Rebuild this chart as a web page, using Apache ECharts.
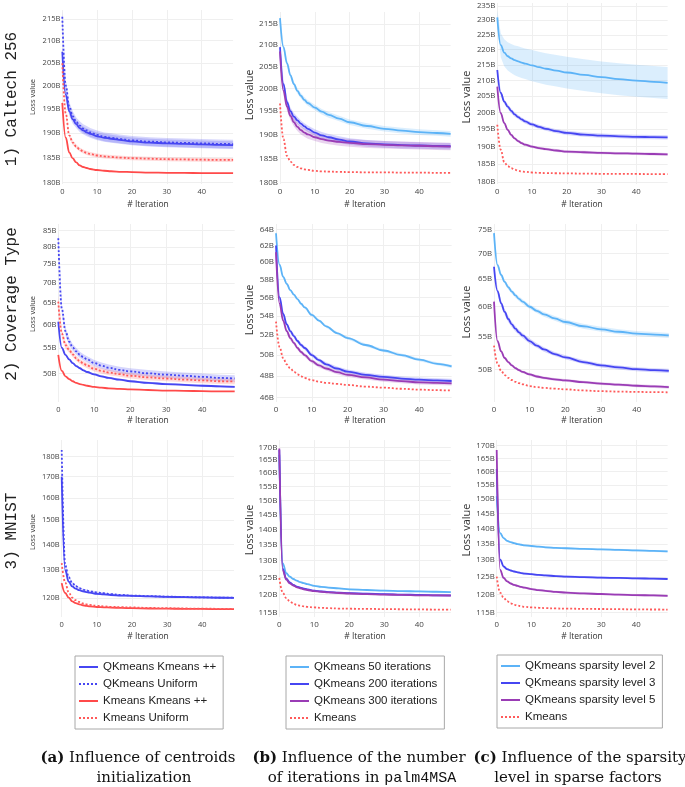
<!DOCTYPE html>
<html><head><meta charset="utf-8">
<script src="https://cdn.jsdelivr.net/npm/echarts@6/dist/echarts.min.js"></script>
<style>html,body{margin:0;padding:0;background:#fff}#c{width:685px;height:787px}</style>
</head><body><div id="c"></div>
<script>
// ---------- DATA ----------
const iterations = [0,1,2,3,4,5,6,7,8,10,12,14,17,20,25,30,35,40,45,49];

// Row 1: Caltech 256
const cal_a_qkKpp = [207.5,198.0,194.5,192.8,191.8,191.0,190.5,190.1,189.8,189.3,189.0,188.8,188.5,188.25,188.0,187.85,187.75,187.65,187.55,187.5];
const cal_a_qkUni = [215.5,200.0,195.5,193.5,192.3,191.5,190.9,190.5,190.1,189.6,189.2,189.0,188.7,188.45,188.2,188.05,187.95,187.85,187.75,187.7];
const cal_a_kmKpp = [196.3,189.0,186.0,184.8,184.0,183.4,183.1,182.9,182.7,182.5,182.35,182.25,182.15,182.1,182.0,181.95,181.92,181.9,181.88,181.87];
const cal_a_kmUni = [204.9,194.0,189.5,188.0,187.2,186.6,186.2,185.9,185.7,185.4,185.2,185.1,184.95,184.85,184.75,184.65,184.6,184.55,184.5,184.5];
const cal_a_qkKpp_sd = [1.2,1.0,0.9,0.9,0.8,0.8,0.8,0.8,0.8,0.8,0.8,0.8,0.8,0.8,0.8,0.8,0.8,0.8,0.8,0.8];
const cal_a_qkUni_sd = [1.5,1.2,1.0,1.0,0.9,0.9,0.9,0.9,0.9,0.9,0.9,0.9,0.9,0.9,0.9,0.9,0.9,0.9,0.9,0.9];
const cal_a_kmUni_sd = [0.8,0.6,0.5,0.5,0.4,0.4,0.4,0.4,0.4,0.4,0.4,0.4,0.4,0.4,0.4,0.4,0.4,0.4,0.4,0.4];

const cal_b_qk50  = [216.4,209.5,205.8,203.0,201.0,199.5,198.4,197.5,196.8,195.8,194.9,194.2,193.4,192.6,191.8,191.2,190.8,190.5,190.3,190.1];
const cal_b_qk200 = [209.5,201.0,197.0,195.0,193.8,193.0,192.3,191.7,191.2,190.4,189.8,189.4,188.9,188.5,188.1,187.9,187.75,187.65,187.55,187.5];
const cal_b_qk300 = [208.5,199.5,196.0,194.0,192.6,191.6,190.9,190.4,190.0,189.4,189.0,188.7,188.4,188.2,187.95,187.8,187.7,187.6,187.5,187.45];
const cal_b_km    = [196.7,189.0,185.5,184.3,183.6,183.2,182.9,182.7,182.6,182.4,182.3,182.25,182.2,182.15,182.1,182.1,182.05,182.05,182.0,182.0];
const cal_b_qk50_sd  = [1.0,0.8,0.7,0.6,0.6,0.6,0.6,0.6,0.6,0.6,0.6,0.6,0.6,0.6,0.6,0.6,0.6,0.6,0.6,0.6];
const cal_b_qk200_sd = [1.2,1.0,0.9,0.8,0.8,0.8,0.7,0.7,0.7,0.7,0.7,0.7,0.7,0.7,0.7,0.7,0.7,0.7,0.7,0.7];
const cal_b_qk300_sd = [1.2,1.0,0.9,0.9,0.9,0.9,0.9,0.9,0.9,0.8,0.8,0.8,0.8,0.8,0.8,0.8,0.8,0.8,0.8,0.8];

const cal_c_sp2 = [231.0,221.5,219.0,217.8,217.1,216.5,216.1,215.7,215.4,214.8,214.2,213.7,213.1,212.5,211.7,211.0,210.4,209.9,209.5,209.2];
const cal_c_sp3 = [213.3,206.0,203.3,201.8,200.5,199.4,198.6,197.9,197.3,196.4,195.7,195.1,194.4,193.9,193.4,193.1,192.9,192.75,192.65,192.6];
const cal_c_sp5 = [208.0,199.8,196.8,194.8,193.3,192.3,191.5,190.9,190.5,189.9,189.5,189.2,188.8,188.5,188.3,188.1,188.0,187.9,187.8,187.7];
const cal_c_km  = [196.3,189.0,185.5,184.4,183.8,183.4,183.1,182.9,182.8,182.6,182.5,182.45,182.4,182.35,182.3,182.25,182.2,182.2,182.15,182.15];
const cal_c_sp2_sd = [2.5,4.0,4.5,4.7,4.8,4.9,5.0,5.0,5.0,5.1,5.1,5.1,5.1,5.1,5.1,5.1,5.1,5.1,5.1,5.1];
const cal_c_sp3_sd = [1.0,0.8,0.7,0.7,0.7,0.7,0.6,0.6,0.6,0.6,0.6,0.6,0.6,0.6,0.6,0.6,0.6,0.6,0.6,0.6];
const cal_c_sp5_sd = [0.8,0.6,0.5,0.5,0.5,0.4,0.4,0.4,0.4,0.4,0.4,0.4,0.4,0.4,0.4,0.4,0.4,0.4,0.4,0.4];

// Row 2: Coverage Type
const cov_a_qkKpp = [60.6,55.0,53.6,52.7,52.0,51.4,51.0,50.6,50.3,49.85,49.5,49.2,48.9,48.6,48.3,48.1,47.95,47.8,47.7,47.6];
const cov_a_qkUni = [82.6,63.5,58.5,56.3,55.1,54.3,53.6,53.1,52.7,52.0,51.5,51.1,50.7,50.4,50.05,49.8,49.6,49.4,49.2,49.1];
const cov_a_kmKpp = [53.6,50.5,49.5,49.0,48.6,48.3,48.1,47.95,47.8,47.6,47.45,47.35,47.25,47.15,47.05,46.95,46.9,46.85,46.8,46.8];
const cov_a_kmUni = [65.3,58.0,55.6,54.6,53.7,52.9,52.3,51.9,51.5,50.9,50.5,50.2,49.9,49.6,49.3,49.1,48.9,48.75,48.6,48.55];
const cov_a_qkKpp_sd = [0.4,0.3,0.25,0.2,0.2,0.2,0.2,0.2,0.2,0.2,0.2,0.2,0.2,0.2,0.2,0.2,0.2,0.2,0.2,0.2];
const cov_a_qkUni_sd = [2.0,1.2,0.9,0.8,0.7,0.7,0.6,0.6,0.6,0.6,0.6,0.6,0.6,0.6,0.6,0.6,0.6,0.6,0.6,0.6];
const cov_a_kmUni_sd = [1.5,0.9,0.7,0.6,0.5,0.5,0.5,0.5,0.5,0.5,0.5,0.5,0.5,0.5,0.5,0.5,0.5,0.5,0.5,0.5];

const cov_b_qk50  = [63.5,59.7,58.3,57.5,56.8,56.3,55.8,55.3,54.9,54.1,53.5,52.9,52.2,51.7,51.0,50.45,50.0,49.55,49.15,48.9];
const cov_b_qk200 = [62.0,56.0,54.2,53.1,52.4,51.9,51.4,51.0,50.7,50.0,49.5,49.1,48.7,48.4,48.1,47.9,47.75,47.65,47.57,47.52];
const cov_b_qk300 = [61.2,55.3,53.5,52.4,51.7,51.2,50.7,50.3,50.0,49.4,49.0,48.7,48.35,48.1,47.85,47.65,47.5,47.4,47.35,47.3];
const cov_b_km    = [53.4,50.8,49.7,49.1,48.7,48.4,48.15,47.95,47.8,47.6,47.45,47.35,47.25,47.15,47.0,46.9,46.8,46.72,46.67,46.64];
const cov_b_qk50_sd  = [0.3,0.2,0.2,0.2,0.15,0.15,0.15,0.15,0.15,0.15,0.15,0.15,0.15,0.15,0.15,0.15,0.15,0.15,0.15,0.15];
const cov_b_qk200_sd = [0.4,0.3,0.3,0.25,0.25,0.2,0.2,0.2,0.2,0.2,0.2,0.2,0.2,0.2,0.2,0.2,0.2,0.2,0.2,0.2];
const cov_b_qk300_sd = [0.4,0.3,0.3,0.25,0.25,0.2,0.2,0.2,0.2,0.2,0.2,0.2,0.2,0.2,0.2,0.2,0.2,0.2,0.2,0.2];

const cov_c_sp2 = [74.3,67.7,65.8,64.5,63.5,62.7,62.0,61.4,60.9,60.0,59.3,58.7,58.0,57.4,56.7,56.2,55.8,55.5,55.35,55.2];
const cov_c_sp3 = [67.4,62.8,60.6,59.1,57.9,57.0,56.3,55.7,55.2,54.3,53.6,53.0,52.3,51.8,51.1,50.6,50.3,50.05,49.9,49.8];
const cov_c_sp5 = [60.9,54.3,52.7,51.7,51.1,50.6,50.2,49.9,49.65,49.3,49.0,48.8,48.6,48.45,48.2,48.0,47.85,47.7,47.6,47.5];
const cov_c_km  = [53.6,50.9,49.8,49.2,48.8,48.5,48.25,48.05,47.9,47.65,47.5,47.4,47.3,47.2,47.05,46.95,46.9,46.85,46.82,46.8];
const cov_c_sp2_sd = [0.6,0.5,0.45,0.4,0.4,0.4,0.4,0.4,0.4,0.4,0.4,0.4,0.4,0.4,0.4,0.4,0.4,0.4,0.4,0.4];
const cov_c_sp3_sd = [0.6,0.6,0.5,0.5,0.5,0.45,0.45,0.4,0.4,0.4,0.35,0.35,0.3,0.3,0.3,0.3,0.3,0.3,0.3,0.3];
const cov_c_sp5_sd = [0.4,0.3,0.25,0.2,0.2,0.2,0.2,0.2,0.2,0.2,0.2,0.2,0.2,0.2,0.2,0.2,0.2,0.2,0.2,0.2];

// Row 3: MNIST
const mni_a_qkKpp = [170.0,130.0,125.8,124.1,123.3,122.8,122.4,122.1,121.9,121.5,121.3,121.1,120.9,120.8,120.6,120.45,120.35,120.25,120.15,120.1];
const mni_a_qkUni = [183.5,131.8,127.5,125.3,124.2,123.5,123.0,122.7,122.4,122.0,121.7,121.4,121.1,120.9,120.7,120.55,120.4,120.3,120.2,120.15];
const mni_a_kmKpp = [125.3,121.8,120.2,118.9,118.3,117.9,117.6,117.4,117.2,117.0,116.9,116.8,116.7,116.6,116.5,116.45,116.4,116.35,116.3,116.3];
const mni_a_kmUni = [132.7,125.5,122.0,120.2,119.3,118.7,118.2,117.9,117.7,117.4,117.2,117.05,116.95,116.85,116.7,116.6,116.5,116.45,116.4,116.4];
const mni_a_qk_sd = [0.6,0.5,0.4,0.35,0.3,0.3,0.3,0.3,0.3,0.3,0.3,0.3,0.3,0.3,0.3,0.3,0.3,0.3,0.3,0.3];

const mni_b_qk50  = [167.0,129.2,126.2,125.2,124.5,124.0,123.6,123.3,123.0,122.5,122.2,122.0,121.75,121.5,121.3,121.1,121.0,120.9,120.8,120.7];
const mni_b_qk200 = [169.0,127.5,124.6,123.5,122.8,122.3,122.0,121.7,121.5,121.1,120.9,120.7,120.55,120.4,120.25,120.1,120.0,119.9,119.8,119.75];
const mni_b_qk300 = [169.5,127.0,124.3,123.2,122.6,122.1,121.8,121.5,121.3,121.0,120.8,120.6,120.45,120.3,120.15,120.0,119.9,119.8,119.75,119.7];
const mni_b_km    = [124.8,120.5,119.0,118.1,117.5,117.1,116.9,116.7,116.55,116.4,116.3,116.2,116.1,116.05,116.0,115.95,115.9,115.85,115.82,115.8];
const mni_b_qk_sd = [0.5,0.4,0.3,0.3,0.25,0.25,0.25,0.25,0.25,0.25,0.25,0.25,0.25,0.25,0.25,0.25,0.25,0.25,0.25,0.25];

const mni_c_sp2 = [151.0,138.5,136.9,136.0,135.6,135.3,135.0,134.8,134.6,134.4,134.2,134.0,133.8,133.7,133.5,133.35,133.2,133.0,132.85,132.7];
const mni_c_sp3 = [161.0,130.2,128.1,127.3,126.9,126.6,126.35,126.15,126.0,125.8,125.6,125.45,125.25,125.1,124.95,124.8,124.7,124.6,124.5,124.4];
const mni_c_sp5 = [168.3,127.1,124.7,123.7,123.1,122.7,122.4,122.1,121.9,121.5,121.2,121.0,120.7,120.5,120.25,120.1,119.95,119.8,119.7,119.6];
const mni_c_km  = [125.1,120.5,119.0,118.1,117.5,117.1,116.9,116.7,116.55,116.4,116.3,116.2,116.1,116.05,116.0,115.95,115.9,115.85,115.82,115.8];
const mni_c_qk_sd = [0.5,0.4,0.35,0.3,0.3,0.3,0.3,0.3,0.3,0.3,0.3,0.3,0.3,0.3,0.3,0.3,0.3,0.3,0.3,0.3];

// Tick labels (in billions)
const ticks_cal_ab = [180,185,190,195,200,205,210,215];
const ticks_cal_c  = [180,185,190,195,200,205,210,215,220,225,230,235];
const ticks_cov_a  = [50,55,60,65,70,75,80,85];
const ticks_cov_b  = [46,48,50,52,54,56,58,60,62,64];
const ticks_cov_c  = [50,55,60,65,70,75];
const ticks_mni_a  = [120,130,140,150,160,170,180];
const ticks_mni_bc = [115,120,125,130,135,140,145,150,155,160,165,170];

// Texts
const rowTitles = ['1) Caltech 256','2) Coverage Type','3) MNIST'];
const legendA = ['QKmeans Kmeans ++','QKmeans Uniform','Kmeans Kmeans ++','Kmeans Uniform'];
const legendB = ['QKmeans 50 iterations','QKmeans 200 iterations','QKmeans 300 iterations','Kmeans'];
const legendC = ['QKmeans sparsity level 2','QKmeans sparsity level 3','QKmeans sparsity level 5','Kmeans'];

// ---------- STYLE / LAYOUT ----------
const BLUE='#4646f2', LBLUE='#5cb3f7', PURPLE='#9a3cb5', RED='#ff4a4a', REDD='#ff5a5a';
function rgba(hex,a){const n=parseInt(hex.slice(1),16);return 'rgba('+(n>>16)+','+((n>>8)&255)+','+(n&255)+','+a+')';}

const panels = [
 {g:[62.3,10,170.8,174], min:179.75, max:217.1, ticks:ticks_cal_ab, fs:7.5, lines:[
   [legendA[0],cal_a_qkKpp,BLUE,false,cal_a_qkKpp_sd],[legendA[1],cal_a_qkUni,BLUE,true,cal_a_qkUni_sd],
   [legendA[2],cal_a_kmKpp,RED,false,null],[legendA[3],cal_a_kmUni,REDD,true,cal_a_kmUni_sd]]},
 {g:[280,12,170.6,172], min:179.74, max:217.9, ticks:ticks_cal_ab, fs:8, lines:[
   [legendB[0],cal_b_qk50,LBLUE,false,cal_b_qk50_sd],[legendB[1],cal_b_qk200,BLUE,false,cal_b_qk200_sd],
   [legendB[2],cal_b_qk300,PURPLE,false,cal_b_qk300_sd],[legendB[3],cal_b_km,REDD,true,null]]},
 {g:[497.3,3,170.3,181], min:179.45, max:236.1, ticks:ticks_cal_c, fs:7.8, lines:[
   [legendC[0],cal_c_sp2,LBLUE,false,cal_c_sp2_sd],[legendC[1],cal_c_sp3,BLUE,false,cal_c_sp3_sd],
   [legendC[2],cal_c_sp5,PURPLE,false,cal_c_sp5_sd],[legendC[3],cal_c_km,REDD,true,null]]},
 {g:[58.3,224,176.4,178], min:45.0, max:87.1, ticks:ticks_cov_a, fs:7.5, lines:[
   [legendA[0],cov_a_qkKpp,BLUE,false,cov_a_qkKpp_sd],[legendA[1],cov_a_qkUni,BLUE,true,cov_a_qkUni_sd],
   [legendA[2],cov_a_kmKpp,RED,false,null],[legendA[3],cov_a_kmUni,REDD,true,cov_a_kmUni_sd]]},
 {g:[276,224,175.6,178], min:45.6, max:64.67, ticks:ticks_cov_b, fs:8, lines:[
   [legendB[0],cov_b_qk50,LBLUE,false,cov_b_qk50_sd],[legendB[1],cov_b_qk200,BLUE,false,cov_b_qk200_sd],
   [legendB[2],cov_b_qk300,PURPLE,false,cov_b_qk300_sd],[legendB[3],cov_b_km,REDD,true,null]]},
 {g:[494,224,174.8,178], min:45.5, max:76.3, ticks:ticks_cov_c, fs:7.8, lines:[
   [legendC[0],cov_c_sp2,LBLUE,false,cov_c_sp2_sd],[legendC[1],cov_c_sp3,BLUE,false,cov_c_sp3_sd],
   [legendC[2],cov_c_sp5,PURPLE,false,cov_c_sp5_sd],[legendC[3],cov_c_km,REDD,true,null]]},
 {g:[61.7,440,172.3,177], min:113.7, max:188.8, ticks:ticks_mni_a, fs:7.5, lines:[
   [legendA[0],mni_a_qkKpp,BLUE,false,mni_a_qk_sd],[legendA[1],mni_a_qkUni,BLUE,true,mni_a_qk_sd],
   [legendA[2],mni_a_kmKpp,RED,false,null],[legendA[3],mni_a_kmUni,REDD,true,null]]},
 {g:[279.3,440,171.5,177], min:113.8, max:172.96, ticks:ticks_mni_bc, fs:8, lines:[
   [legendB[0],mni_b_qk50,LBLUE,false,mni_b_qk_sd],[legendB[1],mni_b_qk200,BLUE,false,mni_b_qk_sd],
   [legendB[2],mni_b_qk300,PURPLE,false,mni_b_qk_sd],[legendB[3],mni_b_km,REDD,true,null]]},
 {g:[496.7,440,170.9,177], min:113.8, max:172.3, ticks:ticks_mni_bc, fs:7.8, lines:[
   [legendC[0],mni_c_sp2,LBLUE,false,mni_c_qk_sd],[legendC[1],mni_c_sp3,BLUE,false,mni_c_qk_sd],
   [legendC[2],mni_c_sp5,PURPLE,false,mni_c_qk_sd],[legendC[3],mni_c_km,REDD,true,null]]}
];

// band drawn as a polygon through the axis scales
function bandSeries(i, vals, sd, color){
  return {type:'custom', xAxisIndex:i, yAxisIndex:i, silent:true, z:1, clip:true,
    data:[[iterations[0], vals[0]]],
    renderItem:function(params, api){
      const pts = [];
      for (let k=0;k<iterations.length;k++) pts.push(api.coord([iterations[k], vals[k]+sd[k]]));
      for (let k=iterations.length-1;k>=0;k--) pts.push(api.coord([iterations[k], vals[k]-sd[k]]));
      return {type:'polygon', shape:{points:pts, smooth:0}, style:{fill:rgba(color,0.22), stroke:null}};
    }};
}

const grids=[], xAxes=[], yAxes=[], series=[];
panels.forEach((p,i)=>{
  grids.push({left:p.g[0], top:p.g[1], width:p.g[2], height:p.g[3], containLabel:false});
  xAxes.push({type:'value', gridIndex:i, min:0, max:49, interval:10,
    axisLine:{show:false}, axisTick:{show:false},
    axisLabel:{fontSize:p.fs, color:'#444', margin:4, fontFamily:'Open Sans', formatter:v=>(v%10===0?String(v):'')},
    splitLine:{show:true, showMaxLine:false, lineStyle:{color:'#efefef', width:1}}});
  yAxes.push({type:'log', logBase:10, gridIndex:i, min:p.min, max:p.max,
    axisLine:{show:false}, axisTick:{show:false, customValues:p.ticks},
    axisLabel:{customValues:p.ticks, fontSize:p.fs, color:'#444', margin:2, fontFamily:'Open Sans', formatter:v=>Math.round(v)+'B'},
    splitLine:{show:true, lineStyle:{color:'#efefef', width:1}}});
  p.lines.forEach(l=>{
    const [name, vals, color, dotted, sd] = l;
    if (sd) series.push(bandSeries(i, vals, sd, color));
    series.push({type:'line', name:name, xAxisIndex:i, yAxisIndex:i, z:3,
      data: iterations.map((x,k)=>[x, vals[k]]), symbol:'none', showSymbol:false, smooth:0.4, smoothMonotone:'x',
      lineStyle:{color:color, width:1.8, type: dotted ? [2,2] : 'solid'}, itemStyle:{color:color}});
  });
});

function legendBox(data, left, top){
  return {data:data, left:left, top:top, orient:'vertical', itemWidth:19, itemHeight:12, itemGap:5,
    padding:[5,7,5,3], borderColor:'#a8a8a8', borderWidth:1, selectedMode:false,
    itemStyle:{color:'rgba(0,0,0,0)', borderWidth:0, opacity:0},
    textStyle:{fontSize:11.5, color:'#222', fontFamily:'Liberation Sans'}};
}

const graphics = [];
const rowY = [99, 304, 531];
rowTitles.forEach((t,i)=>graphics.push({type:'text', x:12, y:rowY[i], rotation:Math.PI/2,
  style:{text:t, fontSize:16, fontFamily:'Liberation Mono', fill:'#222', align:'center', verticalAlign:'middle'}}));
const lossPos = [[33,97,7.5],[250,95,10.5],[467,97,11],[33,314,7.5],[250,310,10.5],[467,312,11],[33,532,7.5],[250,530,10.5],[467,530,11]];
lossPos.forEach(p=>graphics.push({type:'text', x:p[0], y:p[1], rotation:Math.PI/2,
  style:{text:'Loss value', fontSize:p[2], fontFamily:'Open Sans', fill:'#333', align:'center', verticalAlign:'middle'}}));
const iterX = [148, 365, 582], iterY = [205, 421, 637];
iterY.forEach(y=>iterX.forEach(x=>graphics.push({type:'text', x:x, y:y,
  style:{text:'# Iteration', fontSize:8.5, fontFamily:'Open Sans', fill:'#333', align:'center', verticalAlign:'middle'}})));
const capRich = {b:{fontWeight:'bold', fontSize:15, fontFamily:'DejaVu Serif', fill:'#111'}, m:{fontSize:15, fontFamily:'Liberation Mono', fill:'#111'}};
const captions = [
  [138, 758, '{b|(a)} Influence of centroids'], [144, 778, 'initialization'],
  [359, 758, '{b|(b)} Influence of the number'], [362, 778, 'of iterations in {m|palm4MSA}'],
  [580, 758, '{b|(c)} Influence of the sparsity'], [578, 778, 'level in sparse factors']
];
captions.forEach(c=>graphics.push({type:'text', x:c[0], y:c[1],
  style:{text:c[2], rich:capRich, fontSize:15, fontFamily:'DejaVu Serif', fill:'#111', align:'center', verticalAlign:'middle'}}));

const chart = echarts.init(document.getElementById('c'), null, {renderer:'canvas'});
chart.setOption({
  animation:false, backgroundColor:'#fff',
  grid:grids, xAxis:xAxes, yAxis:yAxes, series:series,
  legend:[legendBox(legendA,75,656), legendBox(legendB,286,656), legendBox(legendC,497,655)],
  graphic:graphics
});
</script>
</body></html>
